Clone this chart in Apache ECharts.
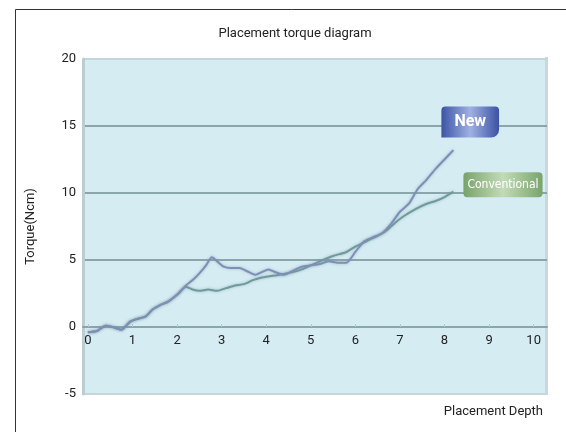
<!DOCTYPE html>
<html>
<head>
<meta charset="utf-8">
<script src="https://cdn.jsdelivr.net/npm/echarts@6/dist/echarts.min.js"></script>
<style>
  html, body { margin: 0; padding: 0; background: #fff; }
  #main { width: 566px; height: 432px; }
</style>
</head>
<body>
<div id="main"></div>
<script>
// placement depth / torque readings
var newDepth = [0, 0.2, 0.4, 0.55, 0.75, 0.95, 1.1, 1.3, 1.45, 1.6, 1.8, 2.0, 2.2, 2.35, 2.5, 2.65, 2.78, 2.9, 3.05, 3.2, 3.4, 3.55, 3.75, 3.9, 4.05, 4.2, 4.4, 4.6, 4.8, 5.0, 5.2, 5.4, 5.6, 5.8, 6.0, 6.2, 6.4, 6.6, 6.8, 7.0, 7.2, 7.4, 7.6, 7.8, 8.0, 8.2];
var newTorque = [-0.4, -0.3, 0.1, 0.0, -0.2, 0.4, 0.6, 0.8, 1.3, 1.6, 1.9, 2.4, 3.1, 3.5, 4.0, 4.6, 5.2, 4.9, 4.5, 4.4, 4.4, 4.2, 3.9, 4.1, 4.3, 4.1, 3.9, 4.2, 4.5, 4.6, 4.7, 4.9, 4.8, 4.8, 5.6, 6.4, 6.7, 7.0, 7.7, 8.6, 9.2, 10.3, 11.0, 11.8, 12.5, 13.2];

var convDepth = [0, 0.2, 0.4, 0.55, 0.75, 0.95, 1.1, 1.3, 1.45, 1.6, 1.8, 2.0, 2.2, 2.35, 2.5, 2.7, 2.9, 3.1, 3.3, 3.5, 3.7, 3.9, 4.1, 4.3, 4.6, 4.8, 5.0, 5.2, 5.5, 5.8, 6.0, 6.25, 6.5, 6.7, 6.9, 7.1, 7.35, 7.6, 7.8, 8.0, 8.2];
var convTorque = [-0.4, -0.3, 0.1, 0.0, -0.2, 0.4, 0.6, 0.8, 1.3, 1.6, 1.9, 2.4, 3.0, 2.8, 2.7, 2.8, 2.7, 2.9, 3.1, 3.2, 3.5, 3.7, 3.8, 3.9, 4.1, 4.3, 4.6, 4.9, 5.3, 5.6, 6.0, 6.4, 6.8, 7.2, 7.8, 8.3, 8.8, 9.2, 9.4, 9.7, 10.1];

var xTicks = [0, 1, 2, 3, 4, 5, 6, 7, 8, 9, 10];
var yMin = -5;

function pairs(xs, ys) {
  return xs.map(function (x, i) { return [x, ys[i]]; });
}

var font = "Roboto, 'DejaVu Sans', sans-serif";
var gridColor = "#8ba6aa";

var chart = echarts.init(document.getElementById("main"));

var option = {
  animation: false,
  textStyle: { fontFamily: font },
  title: {
    text: "Placement torque diagram",
    left: 290,
    top: 22,
    textAlign: "center",
    textStyle: { fontSize: 13, fontWeight: "normal", color: "#222", fontFamily: font },
  },
  grid: {
    left: 83,
    right: 19,
    top: 59,
    bottom: 38,
    show: true,
    backgroundColor: "#d6ecf3",
    borderWidth: 0,
  },
  xAxis: {
    type: "value",
    min: -0.11,
    max: 10.3,
    axisLine: { onZero: false, lineStyle: { color: gridColor, width: 2 } },
    axisTick: { show: true, inside: true, length: 3, customValues: xTicks, lineStyle: { color: "#b5c9cc" } },
    axisLabel: { customValues: xTicks, color: "#222", fontSize: 13, margin: 7 },
    splitLine: { show: false },
  },
  yAxis: {
    type: "value",
    min: yMin,
    max: 20,
    interval: 5,
    name: "Torque(Ncm)",
    nameLocation: "middle",
    nameGap: 46,
    nameRotate: 90,
    nameTextStyle: { color: "#222", fontSize: 13 },
    axisLine: { show: true, onZero: false, lineStyle: { color: "#bccdd1", width: 3 } },
    axisTick: { show: false },
    axisLabel: { color: "#222", fontSize: 13, margin: 7 },
    splitLine: {
      lineStyle: {
        width: 2,
        color: ["#c4d6da", gridColor, gridColor, gridColor, gridColor, "#c4d6da"],
      },
    },
  },
  graphic: [
    {
      type: "rect",
      shape: { x: 15.5, y: 9.5, width: 600, height: 500 },
      style: { fill: null, stroke: "#333", lineWidth: 1 },
      silent: true,
      z: -10,
    },
    {
      type: "rect",
      shape: { x: 545, y: 57, width: 3, height: 338 },
      style: { fill: "#c8d8db" },
      silent: true,
    },
    {
      type: "text",
      right: 23,
      top: 405,
      style: { text: "Placement Depth", fill: "#222", font: "13px " + font },
    },
  ],
  series: [
    {
      name: "Conventional",
      type: "line",
      data: pairs(convDepth, convTorque),
      showSymbol: false,
      smooth: 0.2,
      lineStyle: { color: "#6f9a9c", width: 2, shadowColor: "rgba(111,154,156,0.6)", shadowBlur: 3 },
      itemStyle: { color: "#6f9a9c" },
      endLabel: {
        show: true,
        formatter: "Conventional",
        offset: [2, -7],
        color: "#fff",
        fontSize: 12,
        fontFamily: "'DejaVu Sans Condensed', 'Liberation Sans Narrow', sans-serif",
        padding: [7, 4, 6, 4],
        borderRadius: 4,
        backgroundColor: {
          type: "linear", x: 0, y: 0, x2: 1, y2: 0,
          colorStops: [
            { offset: 0, color: "#78a36a" },
            { offset: 0.5, color: "#c3dbb8" },
            { offset: 1, color: "#79a46b" },
          ],
        },
      },
      z: 3,
    },
    {
      name: "New",
      type: "line",
      data: pairs(newDepth, newTorque),
      showSymbol: false,
      smooth: 0.2,
      lineStyle: { color: "#7d90b3", width: 2, shadowColor: "rgba(125,144,179,0.6)", shadowBlur: 3 },
      itemStyle: { color: "#7d90b3" },
      endLabel: {
        show: true,
        formatter: "New",
        offset: [-20, -28],
        color: "#fff",
        fontSize: 16,
        fontWeight: "bold",
        padding: [8, 13, 7, 13],
        borderRadius: [4, 4, 8, 0],
        backgroundColor: {
          type: "linear", x: 0, y: 0, x2: 1, y2: 0,
          colorStops: [
            { offset: 0, color: "#3c54a6" },
            { offset: 0.5, color: "#9fb1e2" },
            { offset: 1, color: "#3b52a3" },
          ],
        },
      },
      z: 4,
    },
  ],
};

chart.setOption(option);

// lift the depth axis up to torque = 0 (onZero does not kick in here)
var yZero = chart.convertToPixel({ yAxisIndex: 0 }, 0);
var yBottom = chart.convertToPixel({ yAxisIndex: 0 }, yMin);
chart.setOption({ xAxis: { offset: yZero - yBottom } });
</script>
</body>
</html>
